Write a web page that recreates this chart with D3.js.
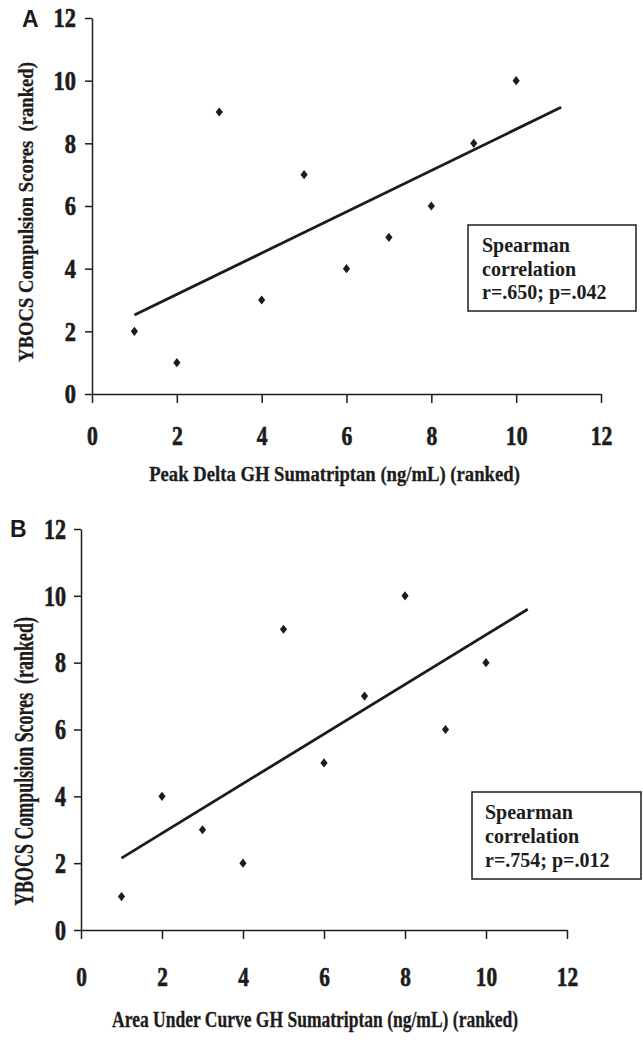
<!DOCTYPE html>
<html>
<head>
<meta charset="utf-8">
<script src="https://cdn.jsdelivr.net/npm/d3@7"></script>
<style>
  body { margin: 0; background: #fff; }
  svg { display: block; }
  text { font-family: "Liberation Serif", "Times New Roman", serif; font-weight: bold; fill: #1c1c1c; }
  .domain, .tick line { stroke: #1c1c1c; stroke-width: 1.5px; }
</style>
</head>
<body>
<svg width="643" height="1042"></svg>
<script>
// chart data
var tickValues = [0, 2, 4, 6, 8, 10, 12];

var rankA = [1, 2, 3, 4, 5, 6, 7, 8, 9, 10];
var scoreA = [2, 1, 9, 3, 7, 4, 5, 6, 8, 10];
var fitA = [[1, 2.52], [11.06, 9.15]];
var statsA = ["Spearman", "correlation", "r=.650; p=.042"];
var xTitleA = "Peak Delta GH Sumatriptan (ng/mL) (ranked)";

var rankB = [1, 2, 3, 4, 5, 6, 7, 8, 9, 10];
var scoreB = [1, 4, 3, 2, 9, 5, 7, 10, 6, 8];
var fitB = [[1, 2.15], [11.03, 9.6]];
var statsB = ["Spearman", "correlation", "r=.754; p=.012"];
var xTitleB = "Area Under Curve GH Sumatriptan (ng/mL) (ranked)";

var yTitle = "YBOCS Compulsion Scores  (ranked)";

function main(){
    var svg = d3.select("svg");

    drawPanel(svg, {
        letter: "A", letterX: 22, letterY: 27,
        xs: rankA, ys: scoreA, fit: fitA, stats: statsA, xTitle: xTitleA,
        xRange: [92, 601], yRange: [394, 18],
        tickFont: 27, tickScale: 0.8, xLabelY: 51, yLabelGap: 16,
        xTitleY: 481, xTitleX: 149, xTitleLen: 371, xTitleFont: 22,
        yTitleX: 33, yTitleTop: 62, yTitleLen: 300, yTitleFont: 22,
        box: {x: 468, y: 225, w: 168, h: 86, tx: 482, ty: 252, dy: 23.5}
    });

    drawPanel(svg, {
        letter: "B", letterX: 10, letterY: 537,
        xs: rankB, ys: scoreB, fit: fitB, stats: statsB, xTitle: xTitleB,
        xRange: [81, 567], yRange: [930, 529],
        tickFont: 28, tickScale: 0.76, xLabelY: 56, yLabelGap: 15,
        xTitleY: 1027, xTitleX: 112, xTitleLen: 406, xTitleFont: 23,
        yTitleX: 33, yTitleTop: 617, yTitleLen: 289, yTitleFont: 27,
        box: {x: 472, y: 792, w: 169, h: 87, tx: 485, ty: 819, dy: 24}
    });
}

// squeeze a text horizontally so that it is len pixels long
function squeeze(sel, base, len){
    var w = sel.node().getComputedTextLength();
    sel.attr("transform", base + " scale(" + (len / w) + ",1)");
}

function drawPanel(svg, p){
    var x = d3.scaleLinear().domain([0, 12]).range(p.xRange),
        y = d3.scaleLinear().domain([0, 12]).range(p.yRange);
    var g = svg.append("g");

    // panel letter
    g.append("text")
        .attr("x", p.letterX)
        .attr("y", p.letterY)
        .style("font-family", "'Liberation Sans', Arial, sans-serif")
        .style("font-size", "23px")
        .text(p.letter);

    // x axis
    var xa = g.append("g")
        .attr("transform", "translate(0," + y(0) + ")")
        .call(d3.axisBottom(x).tickValues(tickValues).tickSize(9).tickSizeOuter(0));
    xa.attr("font-family", null).attr("font-size", null);
    xa.selectAll("text")
        .attr("y", p.xLabelY)
        .attr("dy", null)
        .attr("transform", "scale(" + p.tickScale + ",1)")
        .style("font-size", p.tickFont + "px");

    // y axis
    var ya = g.append("g")
        .attr("transform", "translate(" + x(0) + ",0)")
        .call(d3.axisLeft(y).tickValues(tickValues).tickSize(7).tickSizeOuter(0));
    ya.attr("font-family", null).attr("font-size", null);
    ya.selectAll("text")
        .attr("x", -p.yLabelGap / p.tickScale)
        .attr("transform", "scale(" + p.tickScale + ",1)")
        .style("font-size", (p.tickFont + 1) + "px");

    // heavy digits, like the scanned print
    g.selectAll(".tick text")
        .attr("fill", "#1c1c1c")
        .attr("stroke", "#1c1c1c")
        .attr("stroke-width", 0.7)
        .style("font-weight", "bold");
    g.selectAll(".domain, .tick line").attr("stroke", "#1c1c1c");

    // axis titles, condensed like the original typeface
    var xt = g.append("text")
        .attr("text-anchor", "middle")
        .attr("stroke", "#1c1c1c")
        .attr("stroke-width", 0.3)
        .style("font-size", p.xTitleFont + "px")
        .text(p.xTitle);
    squeeze(xt, "translate(" + (p.xTitleX + p.xTitleLen / 2) + "," + p.xTitleY + ")", p.xTitleLen);

    var yt = g.append("text")
        .attr("text-anchor", "middle")
        .attr("stroke", "#1c1c1c")
        .attr("stroke-width", 0.3)
        .style("white-space", "pre")
        .style("font-size", p.yTitleFont + "px")
        .text(yTitle);
    squeeze(yt, "translate(" + p.yTitleX + "," + (p.yTitleTop + p.yTitleLen / 2) + ") rotate(-90)", p.yTitleLen);

    // regression line
    var line = d3.line()
        .x(function(d){ return x(d[0]); })
        .y(function(d){ return y(d[1]); });
    g.append("path")
        .datum(p.fit)
        .attr("d", line)
        .attr("fill", "none")
        .attr("stroke", "#1c1c1c")
        .attr("stroke-width", 2.8);

    // diamond markers
    g.selectAll(".pt")
        .data(p.xs)
        .enter().append("path")
        .attr("class", "pt")
        .attr("d", "M0,-4.6L3.6,0L0,4.6L-3.6,0Z")
        .attr("fill", "#1c1c1c")
        .attr("transform", function(d, i){ return "translate(" + x(d) + "," + y(p.ys[i]) + ")"; });

    // stats box
    var b = p.box;
    g.append("rect")
        .attr("x", b.x).attr("y", b.y)
        .attr("width", b.w).attr("height", b.h)
        .attr("fill", "#fff")
        .attr("stroke", "#1c1c1c")
        .attr("stroke-width", 1.5);
    g.selectAll(".stat")
        .data(p.stats)
        .enter().append("text")
        .attr("class", "stat")
        .attr("x", b.tx)
        .attr("y", function(d, i){ return b.ty + i * b.dy; })
        .style("font-size", "20px")
        .text(function(d){ return d; });
}

main();
</script>
</body>
</html>
